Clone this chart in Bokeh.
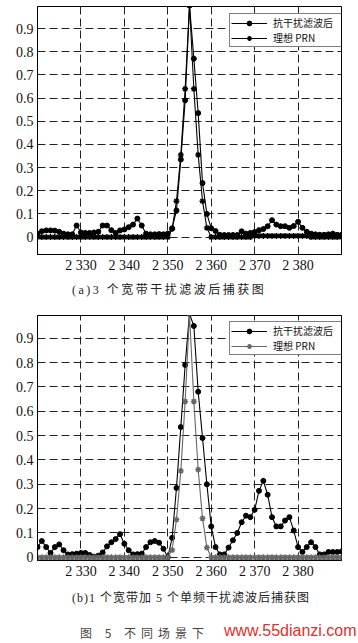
from bokeh.plotting import figure
from bokeh.models import FixedTicker, Legend, LegendItem, Div, Range1d
from bokeh.layouts import column
from bokeh.core.properties import value
from bokeh.embed import file_html
from bokeh.resources import INLINE

# ---- data ----
x = [2320, 2321, 2322, 2323, 2324, 2325, 2326, 2327, 2328, 2329,
     2330, 2331, 2332, 2333, 2334, 2335, 2336, 2337, 2338, 2339,
     2340, 2341, 2342, 2343, 2344, 2345, 2346, 2347, 2348, 2349,
     2350, 2351, 2352, 2353, 2354, 2355, 2356, 2357, 2358, 2359,
     2360, 2361, 2362, 2363, 2364, 2365, 2366, 2367, 2368, 2369,
     2370, 2371, 2372, 2373, 2374, 2375, 2376, 2377, 2378, 2379,
     2380, 2381, 2382, 2383, 2384, 2385, 2386, 2387, 2388, 2389, 2390]

# (a) three wideband interferers
a_filtered = [0.015, 0.025, 0.029, 0.029, 0.028, 0.023, 0.015, 0.012, 0.012, 0.050,
              0.020, 0.018, 0.018, 0.020, 0.023, 0.050, 0.050, 0.030, 0.018, 0.029,
              0.033, 0.043, 0.054, 0.080, 0.050, 0.015, 0.012, 0.012, 0.013, 0.012,
              0.015, 0.038, 0.115, 0.335, 0.590, 1.000, 0.770, 0.535, 0.233, 0.100,
              0.038, 0.026, 0.010, 0.009, 0.009, 0.009, 0.009, 0.025, 0.015, 0.018,
              0.022, 0.030, 0.035, 0.047, 0.073, 0.054, 0.047, 0.047, 0.040, 0.048,
              0.066, 0.040, 0.023, 0.015, 0.012, 0.010, 0.010, 0.012, 0.015, 0.010, 0.010]
a_ideal = [0.0, 0.0, 0.0, 0.0, 0.0, 0.0, 0.0, 0.0, 0.0, 0.0,
           0.0, 0.0, 0.0, 0.0, 0.0, 0.0, 0.0, 0.0, 0.0, 0.0,
           0.0, 0.0, 0.0, 0.0, 0.0, 0.0, 0.0, 0.0, 0.0, 0.0,
           0.0, 0.035, 0.155, 0.355, 0.640, 1.000, 0.640, 0.355, 0.155, 0.040,
           0.0, 0.0, 0.0, 0.0, 0.0, 0.0, 0.0, 0.0, 0.0, 0.0,
           0.005, 0.005, 0.005, 0.005, 0.005, 0.005, 0.005, 0.005, 0.005, 0.005,
           0.005, 0.005, 0.005, 0.0, 0.0, 0.0, 0.0, 0.0, 0.0, 0.0, 0.0]

# (b) one wideband + five single-tone interferers
b_filtered = [0.042, 0.067, 0.042, 0.018, 0.042, 0.053, 0.029, 0.012, 0.013, 0.015,
              0.018, 0.018, 0.010, 0.003, 0.007, 0.020, 0.045, 0.062, 0.075, 0.095,
              0.056, 0.029, 0.012, 0.013, 0.015, 0.042, 0.062, 0.067, 0.060, 0.035,
              0.000, 0.080, 0.285, 0.535, 0.790, 1.000, 0.950, 0.680, 0.490, 0.300,
              0.127, 0.042, 0.012, 0.012, 0.040, 0.070, 0.100, 0.144, 0.171, 0.165,
              0.195, 0.273, 0.314, 0.257, 0.165, 0.127, 0.127, 0.151, 0.165, 0.110,
              0.042, 0.022, 0.042, 0.062, 0.042, 0.012, 0.012, 0.022, 0.022, 0.022, 0.024]
b_ideal = [0.0, 0.0, 0.0, 0.0, 0.0, 0.0, 0.0, 0.0, 0.0, 0.0,
           0.0, 0.0, 0.0, 0.0, 0.0, 0.0, 0.0, 0.0, 0.0, 0.0,
           0.0, 0.0, 0.0, 0.0, 0.0, 0.0, 0.0, 0.0, 0.0, 0.0,
           0.0, 0.030, 0.155, 0.355, 0.640, 1.000, 0.640, 0.360, 0.160, 0.040,
           0.0, 0.0, 0.0, 0.0, 0.0, 0.0, 0.0, 0.0, 0.0, 0.0,
           0.0, 0.0, 0.0, 0.0, 0.0, 0.0, 0.0, 0.0, 0.0, 0.0,
           0.0, 0.0, 0.0, 0.0, 0.0, 0.0, 0.0, 0.0, 0.0, 0.0, 0.0]

x_ticks = [2330, 2340, 2350, 2360, 2370, 2380]
x_labels = ["2 330", "2 340", "2 350", "2 360", "2 370", "2 380"]
y_ticks = [0, 0.1, 0.2, 0.3, 0.4, 0.5, 0.6, 0.7, 0.8, 0.9]
y_labels = ["0", "0.1", "0.2", "0.3", "0.4", "0.5", "0.6", "0.7", "0.8", "0.9"]
legend_labels = ["抗干扰滤波后", "理想 PRN"]
caption_a = "(a)3 个宽带干扰滤波后捕获图"
caption_b = "(b)1 个宽带加 5 个单频干扰滤波后捕获图"
figure_caption = "图 5  不同场景下"
watermark = "www.55dianzi.com"


def make_panel(height, top, bottom, y_lo, y_hi, filt, ideal, ideal_color, legend_y):
    p = figure(width=358, height=height, x_range=Range1d(2320, 2390),
               y_range=Range1d(y_lo, y_hi), output_backend="svg",
               toolbar_location=None, min_border_left=37, min_border_right=17,
               min_border_top=top, min_border_bottom=bottom, margin=0)
    p.background_fill_color = "white"
    p.border_fill_color = "white"
    p.outline_line_color = "black"
    p.outline_line_width = 1
    p.outline_line_alpha = 1
    p.xaxis.ticker = FixedTicker(ticks=x_ticks)
    p.yaxis.ticker = FixedTicker(ticks=y_ticks)
    p.xaxis.major_label_overrides = dict(zip(x_ticks, x_labels))
    p.yaxis.major_label_overrides = dict(zip(y_ticks, y_labels))
    for ax in p.axis:
        ax.axis_line_color = "black"
        ax.major_tick_line_color = None
        ax.minor_tick_line_color = None
        ax.major_tick_out = 0
        ax.major_label_text_font = "Liberation Serif"
        ax.major_label_text_font_size = "14px"
        ax.major_label_text_color = "#111111"
    p.xaxis.major_label_standoff = 3
    p.yaxis.major_label_standoff = 4
    p.grid.grid_line_color = "#222222"
    p.grid.grid_line_dash = "8 4"
    p.grid.grid_line_width = 1
    p.grid.grid_line_alpha = 1

    lf = p.line(x, filt, line_color="black", line_width=1.1)
    sf = p.scatter(x, filt, marker="circle", size=5, fill_color="black", line_color="black")
    li = p.line(x, ideal, line_color=ideal_color, line_width=1.1)
    si = p.scatter(x, ideal, marker="asterisk", size=6, line_color=ideal_color, line_width=1.4)

    legend = Legend(items=[LegendItem(label=value(legend_labels[0]), renderers=[lf, sf]),
                           LegendItem(label=value(legend_labels[1]), renderers=[li, si])],
                    location=(192, legend_y))
    legend.label_text_font = "Noto Sans CJK SC"
    legend.label_text_font_size = "10px"
    legend.label_text_color = "#111111"
    legend.glyph_width = 36
    legend.glyph_height = 12
    legend.label_height = 12
    legend.label_width = 68
    legend.label_standoff = 6
    legend.padding = 1
    legend.spacing = 0
    legend.margin = 0
    legend.border_line_color = "black"
    legend.border_line_width = 1
    legend.background_fill_color = "white"
    legend.background_fill_alpha = 1
    p.add_layout(legend)
    return p


p1 = make_panel(278, 6, 24, -0.075, 0.995, a_filtered, a_ideal, "black", 207)
p2 = make_panel(277, 10, 22, -0.013, 0.993, b_filtered, b_ideal, "#666666", 205)

cap_style = "font-family:'Liberation Serif','Noto Sans CJK SC';font-size:12px;color:#222;white-space:nowrap;margin:0;"
div_a = Div(text=f'<div style="{cap_style}padding-left:72px;padding-top:4px;line-height:16px;letter-spacing:2.5px;">{caption_a}</div>',
            width=358, height=27, margin=0)
div_b = Div(text=f'<div style="{cap_style}padding-left:72px;padding-top:8px;line-height:16px;letter-spacing:1px;">{caption_b}</div>',
            width=358, height=32, margin=0)
div_c = Div(text=(
    '<div style="position:relative;width:358px;height:29px;margin:0;">'
    f'<span style="position:absolute;left:80px;top:11px;font-family:\'Noto Sans CJK SC\';font-size:12px;line-height:16px;letter-spacing:5px;color:#444;white-space:nowrap;">{figure_caption}</span>'
    f'<span style="position:absolute;left:224px;top:8px;font-family:\'Liberation Sans\';font-size:16px;line-height:18px;color:#e0302a;white-space:nowrap;">{watermark}</span>'
    '</div>'), width=358, height=29, margin=0)

layout = column(p1, div_a, p2, div_b, div_c, spacing=0, margin=0)

open("out.html", "w").write(file_html(layout, INLINE))
